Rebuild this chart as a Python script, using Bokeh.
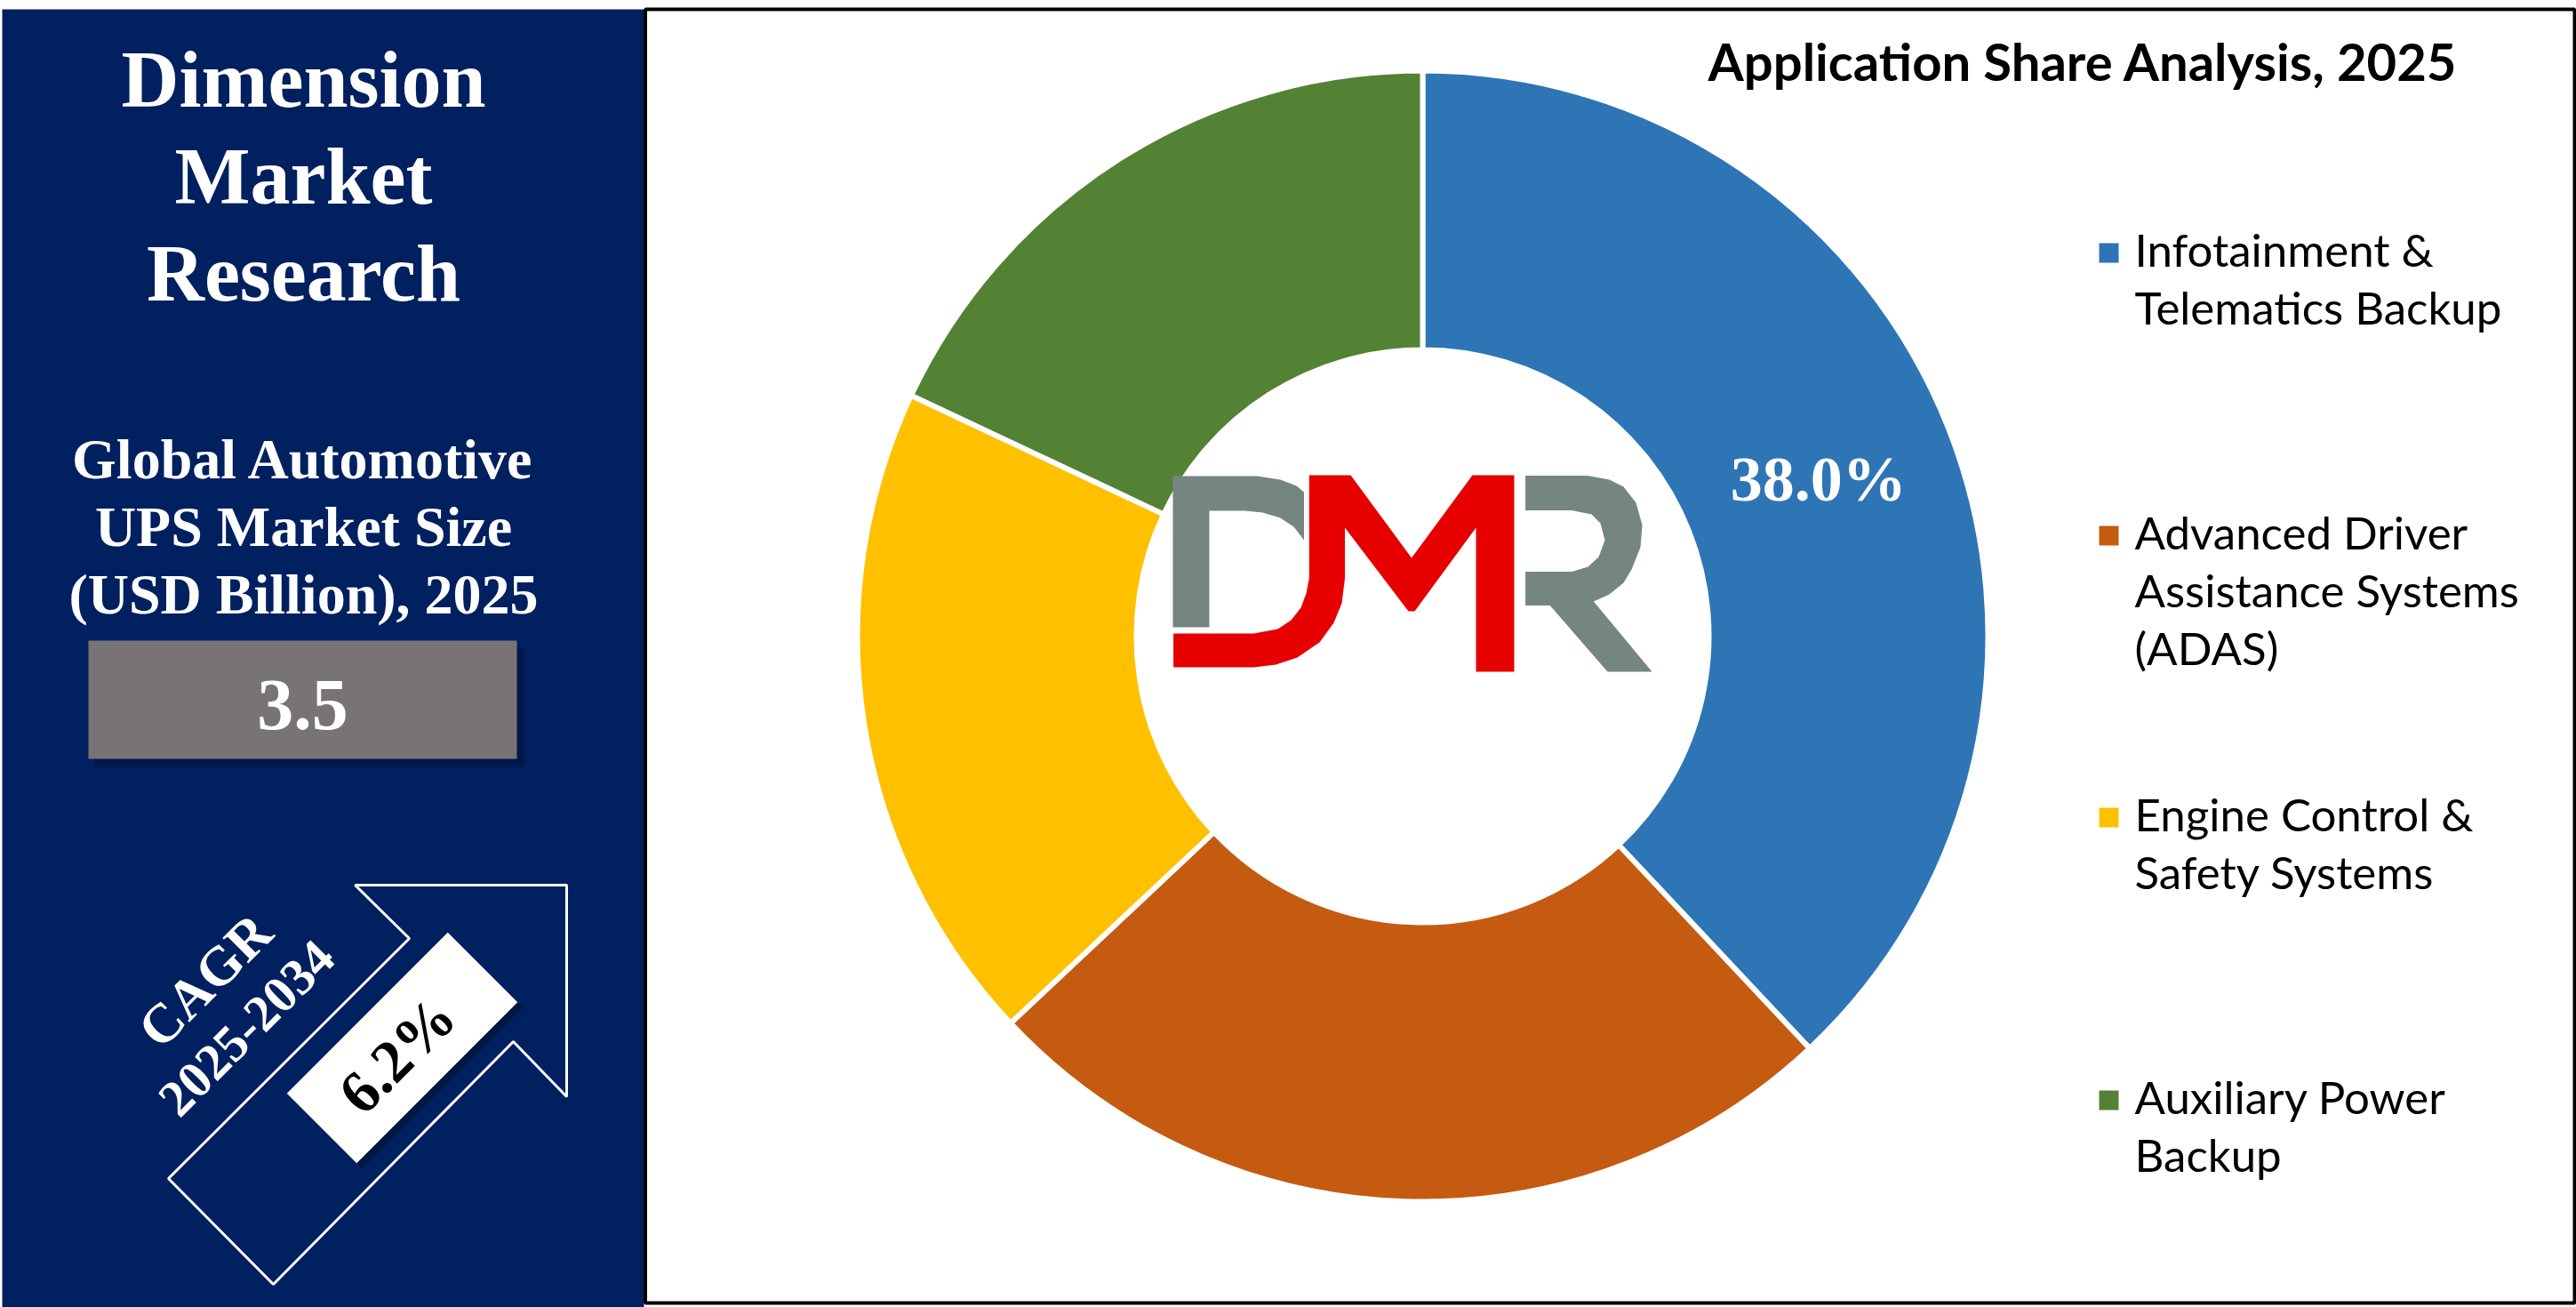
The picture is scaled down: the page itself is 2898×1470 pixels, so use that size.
import numpy as np
from bokeh.plotting import figure
from bokeh.models import ColumnDataSource, Range1d
from bokeh.core.properties import value
from bokeh.embed import file_html
from bokeh.resources import INLINE

# ---------------- data ----------------
categories = [
    "Infotainment & Telematics Backup",
    "Advanced Driver Assistance Systems (ADAS)",
    "Engine Control & Safety Systems",
    "Auxiliary Power Backup",
]
legend_lines = [
    ["Infotainment &", "Telematics Backup"],
    ["Advanced Driver", "Assistance Systems", "(ADAS)"],
    ["Engine Control &", "Safety Systems"],
    ["Auxiliary Power", "Backup"],
]
shares = [38.0, 25.0, 19.0, 18.0]
seg_colors = ["#2E75B6", "#C55A11", "#FFC000", "#548235"]
show_label = [True, False, False, False]

chart_title = "Application Share Analysis, 2025"
brand_lines = ["Dimension", "Market", "Research"]
size_lines = ["Global Automotive", "UPS Market Size", "(USD Billion), 2025"]
market_size = "3.5"
cagr_label = "CAGR"
cagr_period = "2025-2034"
cagr_value = "6.2%"

# ---------------- layout ----------------
W, H = 2898, 1470
PH = 1470


def Y(v):
    return PH - v


def Ys(vs):
    return [PH - v for v in vs]


p = figure(width=W, height=H, x_range=Range1d(0, W), y_range=Range1d(0, H),
           output_backend="svg", toolbar_location=None, min_border=0)
p.xaxis.visible = False
p.yaxis.visible = False
p.xgrid.visible = False
p.ygrid.visible = False
p.outline_line_color = None
p.background_fill_color = "white"
p.border_fill_color = "white"

SERIF = value("Liberation Serif")
SANS = value("Lato")

# left navy panel
p.quad(left=2, right=724, top=Y(10), bottom=Y(1475), color="#002060", line_color=None)
# right panel border
p.quad(left=725.5, right=2896, top=Y(10), bottom=Y(1465), fill_alpha=0,
       line_color="black", line_width=4)

# brand text
for i, t in enumerate(brand_lines):
    p.text(x=[341], y=[Y(89 + 109 * i)], text=[t], text_font=SERIF, text_font_style="bold",
           text_font_size=value("90px"), text_color="white", text_align="center",
           text_baseline="middle")
for i, t in enumerate(size_lines):
    p.text(x=[341], y=[Y(516 + 76 * i)], text=[t], text_font=SERIF, text_font_style="bold",
           text_font_size=value("64px"), text_color="white", text_align="center",
           text_baseline="middle")

# market size box
p.quad(left=106, right=590, top=Y(728), bottom=Y(862), color="#001445", alpha=0.7, line_color=None)
p.quad(left=99, right=581, top=Y(720), bottom=Y(853), color="#787473", line_color=None)
p.text(x=[340], y=[Y(792)], text=[market_size], text_font=SERIF, text_font_style="bold",
       text_font_size=value("82px"), text_color="white", text_align="center",
       text_baseline="middle")

# CAGR arrow outline
ax = [460, 399, 637, 637, 577, 307, 189]
ay = [1055, 995, 995, 1233, 1171, 1444, 1325]
p.patch(ax, Ys(ay), fill_alpha=0, line_color="white", line_width=3)
ang = np.pi / 4
p.rect(x=[458], y=[Y(1184)], width=256, height=111, angle=ang, color="#001030", alpha=0.6,
       line_color=None)
p.rect(x=[452], y=[Y(1178)], width=256, height=111, angle=ang, color="white", line_color=None)
p.text(x=[446], y=[Y(1186)], text=[cagr_value], text_font=SERIF, text_font_style="bold",
       text_font_size=value("68px"), text_color="black", text_align="center",
       text_baseline="middle", angle=ang)
p.text(x=[230], y=[Y(1102)], text=[cagr_label], text_font=SERIF, text_font_style="bold",
       text_font_size=value("62px"), text_color="white", text_align="center",
       text_baseline="middle", angle=ang)
p.text(x=[277], y=[Y(1156)], text=[cagr_period], text_font=SERIF, text_font_style="bold",
       text_font_size=value("58px"), text_color="white", text_align="center",
       text_baseline="middle", angle=ang)

# ---------------- donut ----------------
CX, CY = 1600, Y(715)
R_IN, R_OUT = 322, 636
frac = np.array(shares) / sum(shares)
cum = np.concatenate([[0], np.cumsum(frac)])
start = np.pi / 2 - 2 * np.pi * cum[1:]
end = np.pi / 2 - 2 * np.pi * cum[:-1]
src = ColumnDataSource(dict(start=start, end=end, color=seg_colors, cat=categories))
p.annular_wedge(x=CX, y=CY, inner_radius=R_IN, outer_radius=R_OUT, start_angle="start",
                end_angle="end", fill_color="color", line_color="white", line_width=6,
                source=src)

mid = (start + end) / 2
rl = (R_IN + R_OUT) / 2
lab = dict(x=[], y=[], t=[])
for i in range(len(shares)):
    if show_label[i]:
        lab["x"].append(CX + rl * np.cos(mid[i]))
        lab["y"].append(CY + rl * np.sin(mid[i]))
        lab["t"].append(f"{shares[i]:.1f}%")
p.text(x="x", y="y", text="t", source=ColumnDataSource(lab), text_font=SERIF,
       text_font_style="bold", text_font_size=value("72px"), text_color="white",
       text_align="center", text_baseline="middle")

# DMR logo (decoration)
grey = "#758582"
red = "#E60000"
dx = [1319, 1414, 1440, 1458, 1466.5, 1466.5, 1455, 1440, 1420, 1400, 1360, 1360, 1319]
dy = [535, 535, 539, 546, 553, 607, 592, 582, 576, 574, 574, 705, 705]
p.patch(dx, Ys(dy), color=grey, line_color=None)
mx = [1472.3, 1519, 1587.5, 1656, 1703, 1703, 1660, 1660, 1591, 1584, 1512.5, 1512.5,
      1509, 1500, 1484, 1459, 1435, 1410, 1319.6, 1319.6, 1410, 1437, 1452, 1463, 1469, 1472.3]
my = [534, 534, 627, 534, 534, 755, 755, 593, 687, 687, 593, 650,
      678, 700, 722, 739, 747, 750, 750, 712, 712, 707, 697, 683, 667, 650]
p.patch(mx, Ys(my), color=red, line_color=None)
rx = [1715.6, 1785.7, 1810, 1826, 1840, 1847, 1845, 1835, 1826, 1810, 1792.4, 1858, 1808,
      1743.3, 1715.6, 1715.6, 1768, 1786, 1798, 1805, 1800, 1790, 1768, 1715.6]
ry = [534.6, 534.6, 539, 547, 565, 590, 615, 640, 655, 668, 676, 755, 755,
      680.6, 680.6, 642.5, 642.5, 637, 626, 607, 588, 578, 573.6, 573.6]
p.patch(rx, Ys(ry), color=grey, line_color=None)

# ---------------- title & legend ----------------
p.text(x=[2343], y=[Y(68)], text=[chart_title], text_font=SANS, text_font_style="bold",
       text_font_size=value("58px"), text_color="black", text_align="center",
       text_baseline="middle")

leg_y = [284, 602, 919, 1237]
sq = ColumnDataSource(dict(x=[2372] * 4, y=Ys(leg_y), c=seg_colors))
p.rect(x="x", y="y", width=22, height=22, fill_color="c", line_color=None, source=sq)
lt = dict(x=[], y=[], t=[])
for i, lines in enumerate(legend_lines):
    for j, t in enumerate(lines):
        lt["x"].append(2401)
        lt["y"].append(Y(leg_y[i] - 4 + 65 * j))
        lt["t"].append(t)
p.text(x="x", y="y", text="t", source=ColumnDataSource(lt), text_font=SANS,
       text_font_size=value("51px"), text_color="black", text_align="left",
       text_baseline="middle")

open("out.html", "w").write(file_html(p, INLINE))
